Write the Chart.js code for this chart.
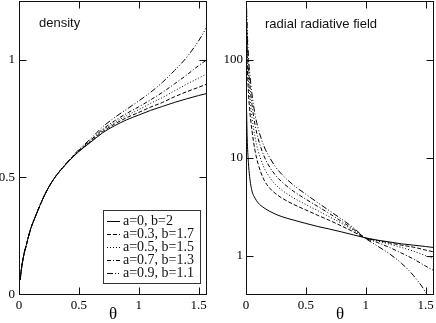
<!DOCTYPE html>
<html><head><meta charset="utf-8">
<script src="https://cdn.jsdelivr.net/npm/chart.js@4"></script>
<style>
html,body{margin:0;padding:0;background:#fff;width:436px;height:323px;overflow:hidden}
#c1{position:absolute;left:0;top:0}
#c2{position:absolute;left:218px;top:0}
</style></head><body>
<canvas id="c1" width="218" height="323"></canvas>
<canvas id="c2" width="218" height="323"></canvas>
<script>
// ---- data ----
const seriesLabels = ['a=0, b=2', 'a=0.3, b=1.7', 'a=0.5, b=1.5', 'a=0.7, b=1.3', 'a=0.9, b=1.1'];

const thetaDensity = [0.01, 0.02, 0.04, 0.06, 0.08, 0.1, 0.15, 0.2, 0.25, 0.3, 0.4, 0.5, 0.6, 0.7, 0.8, 0.9, 1.0, 1.1, 1.2, 1.3, 1.4, 1.5, 1.57];
const densityA0  = [0.065, 0.11, 0.17, 0.21, 0.25, 0.285, 0.35, 0.41, 0.46, 0.50, 0.56, 0.61, 0.65, 0.69, 0.72, 0.745, 0.765, 0.785, 0.802, 0.819, 0.834, 0.848, 0.857];
const densityA03 = [0.065, 0.11, 0.17, 0.21, 0.25, 0.285, 0.35, 0.41, 0.46, 0.50, 0.56, 0.611, 0.653, 0.695, 0.727, 0.754, 0.776, 0.799, 0.819, 0.843, 0.864, 0.883, 0.897];
const densityA05 = [0.065, 0.11, 0.17, 0.21, 0.25, 0.285, 0.35, 0.41, 0.46, 0.50, 0.561, 0.613, 0.656, 0.70, 0.734, 0.763, 0.788, 0.815, 0.84, 0.868, 0.896, 0.922, 0.94];
const densityA07 = [0.065, 0.11, 0.17, 0.21, 0.25, 0.285, 0.35, 0.41, 0.46, 0.50, 0.562, 0.615, 0.659, 0.705, 0.741, 0.772, 0.80, 0.83, 0.862, 0.898, 0.935, 0.975, 1.0];
const densityA09 = [0.065, 0.11, 0.17, 0.21, 0.25, 0.285, 0.35, 0.41, 0.46, 0.50, 0.563, 0.618, 0.665, 0.715, 0.755, 0.79, 0.825, 0.862, 0.905, 0.955, 1.01, 1.08, 1.14];

const thetaField = [0.005, 0.01, 0.02, 0.03, 0.05, 0.075, 0.1, 0.15, 0.2, 0.25, 0.3, 0.4, 0.5, 0.6, 0.7, 0.8, 0.9, 1.0, 1.1, 1.2, 1.3, 1.4, 1.5, 1.57];
const fieldA0  = [30, 16, 9, 6.5, 4.6, 3.9, 3.5, 3.1, 2.85, 2.66, 2.52, 2.32, 2.15, 2.0, 1.88, 1.76, 1.64, 1.53, 1.45, 1.39, 1.33, 1.29, 1.25, 1.22];
const fieldA03 = [180, 95, 48, 32, 19, 12, 8.8, 6.0, 4.9, 4.3, 3.9, 3.35, 2.95, 2.6, 2.3, 2.02, 1.76, 1.52, 1.44, 1.36, 1.29, 1.23, 1.15, 1.10];
const fieldA05 = [250, 135, 68, 45, 26, 16.5, 12, 8.0, 6.3, 5.3, 4.7, 3.9, 3.35, 2.9, 2.5, 2.15, 1.82, 1.52, 1.42, 1.32, 1.22, 1.12, 1.01, 0.94];
const fieldA07 = [300, 170, 90, 60, 35, 22, 16, 10.5, 8.0, 6.6, 5.7, 4.55, 3.8, 3.2, 2.7, 2.25, 1.87, 1.52, 1.37, 1.22, 1.07, 0.93, 0.79, 0.71];
const fieldA09 = [340, 205, 112, 76, 45, 28, 20.4, 13.2, 10, 8.0, 6.8, 5.25, 4.27, 3.5, 2.88, 2.37, 1.93, 1.51, 1.26, 1.05, 0.84, 0.63, 0.43, 0.30];

const densitySeries = [densityA0, densityA03, densityA05, densityA07, densityA09];
const fieldSeries = [fieldA0, fieldA03, fieldA05, fieldA07, fieldA09];

// ---- styles ----
const dashes = [[], [4, 2], [1, 2], [4, 2, 1, 2], [6, 2, 1, 2, 1, 2]];
const SERIF = 'Liberation Serif';

function pts(xs, ys) { return xs.map((x, i) => ({x: x, y: ys[i]})); }
function datasets(xs, series) {
  return series.map((ys, i) => ({
    label: seriesLabels[i], data: pts(xs, ys),
    borderColor: '#000', borderWidth: 1, borderDash: dashes[i],
    pointRadius: 0, fill: false, cubicInterpolationMode: 'monotone'
  }));
}

const panelPlugin = {
  id: 'panel',
  afterDraw(chart) {
    const o = chart.options.plugins.panel;
    const ctx = chart.ctx, a = chart.chartArea;
    const xs = chart.scales.x, ys = chart.scales.y;
    ctx.save();
    ctx.strokeStyle = '#111'; ctx.lineWidth = 1; ctx.setLineDash([]);
    const L = Math.round(a.left) + 0.5, R = Math.round(a.right) - 0.5;
    const T = Math.round(a.top) + 0.5, B = Math.round(a.bottom) - 0.5;
    ctx.strokeRect(L, T, R - L, B - T);
    ctx.beginPath();
    xs.ticks.forEach(t => {
      const p = Math.round(xs.getPixelForValue(t.value)) + 0.5;
      if (p < L - 0.1 || p > R + 0.1) return;
      const len = t.label != null ? 7 : 4;
      ctx.moveTo(p, B); ctx.lineTo(p, B - len);
      ctx.moveTo(p, T); ctx.lineTo(p, T + len);
    });
    ys.ticks.forEach(t => {
      const p = Math.round(ys.getPixelForValue(t.value)) + 0.5;
      if (p < T - 0.1 || p > B + 0.1) return;
      const len = t.label != null ? 7 : 4;
      ctx.moveTo(L, p); ctx.lineTo(L + len, p);
      ctx.moveTo(R, p); ctx.lineTo(R - len, p);
    });
    ctx.stroke();
    ctx.fillStyle = '#111';
    ctx.font = '13px "Liberation Sans"';
    ctx.textBaseline = 'middle'; ctx.textAlign = 'left';
    ctx.fillText(o.text, o.tx, o.ty);
    if (o.legend) {
      const lg = o.legend;
      ctx.fillStyle = '#fff';
      ctx.fillRect(lg.x, lg.y, lg.w, lg.h);
      ctx.strokeStyle = '#333';
      ctx.strokeRect(lg.x + 0.5, lg.y + 0.5, lg.w, lg.h);
      ctx.font = '14px "' + SERIF + '"';
      ctx.fillStyle = '#111';
      chart.data.datasets.forEach((ds, i) => {
        const y = lg.y + lg.first + i * lg.step;
        ctx.beginPath();
        ctx.setLineDash(ds.borderDash);
        ctx.strokeStyle = '#000';
        ctx.moveTo(lg.x + 4, Math.round(y) + 0.5);
        ctx.lineTo(lg.x + 17, Math.round(y) + 0.5);
        ctx.stroke();
        ctx.setLineDash([]);
        ctx.fillText(ds.label, lg.x + 20, y + 0.5);
      });
    }
    ctx.restore();
  }
};

function isMajorHalf(v) { return Math.abs(v * 2 - Math.round(v * 2)) < 1e-6; }
function isDecade(v) { const l = Math.log10(v); return Math.abs(l - Math.round(l)) < 1e-6; }
function noPad(s) { s.paddingTop = 0; s.paddingBottom = 0; s.paddingLeft = 0; s.paddingRight = 0; }

const tickFont = {family: SERIF, size: 13};
function xScale() {
  return {
    type: 'linear', min: 0, max: 1.5708,
    ticks: {stepSize: 0.25, includeBounds: false, autoSkip: false, maxRotation: 0, minRotation: 0,
            padding: 3, color: '#000', font: tickFont,
            callback: v => isMajorHalf(v) ? String(v) : null},
    grid: {display: false, drawTicks: false}, border: {display: false},
    title: {display: true, text: 'θ', color: '#000', padding: 0,
            font: {family: SERIF, size: 17, lineHeight: 1}},
    afterFit: s => { s.height = 28; noPad(s); }
  };
}

new Chart(document.getElementById('c1'), {
  type: 'line',
  data: {datasets: datasets(thetaDensity, densitySeries)},
  plugins: [panelPlugin],
  options: {
    responsive: false, animation: false, devicePixelRatio: 1,
    layout: {autoPadding: false, padding: {left: 0, right: 11, top: 1, bottom: 0}},
    plugins: {legend: {display: false}, tooltip: {enabled: false},
      panel: {text: 'density', tx: 39, ty: 23,
              legend: {x: 103, y: 210, w: 97, h: 73, first: 11, step: 13}}},
    scales: {
      x: xScale(),
      y: {type: 'linear', min: 0, max: 1.25,
          ticks: {stepSize: 0.25, includeBounds: false, autoSkip: false, padding: 4, color: '#000', font: tickFont,
                  callback: v => isMajorHalf(v) ? String(v) : null},
          grid: {display: false, drawTicks: false}, border: {display: false},
          afterFit: s => { s.width = 19; noPad(s); }}
    }
  }
});

new Chart(document.getElementById('c2'), {
  type: 'line',
  data: {datasets: datasets(thetaField, fieldSeries)},
  plugins: [panelPlugin],
  options: {
    responsive: false, animation: false, devicePixelRatio: 1,
    layout: {autoPadding: false, padding: {left: 0, right: 2, top: 1, bottom: 0}},
    plugins: {legend: {display: false}, tooltip: {enabled: false},
      panel: {text: 'radial radiative field', tx: 47, ty: 24}},
    scales: {
      x: xScale(),
      y: {type: 'logarithmic', min: 0.4, max: 400,
          ticks: {autoSkip: false, padding: 3, color: '#000', font: tickFont,
                  callback: v => isDecade(v) ? String(Math.round(v)) : null},
          grid: {display: false, drawTicks: false}, border: {display: false},
          afterFit: s => { s.width = 28; noPad(s); }}
    }
  }
});
</script>
</body></html>
